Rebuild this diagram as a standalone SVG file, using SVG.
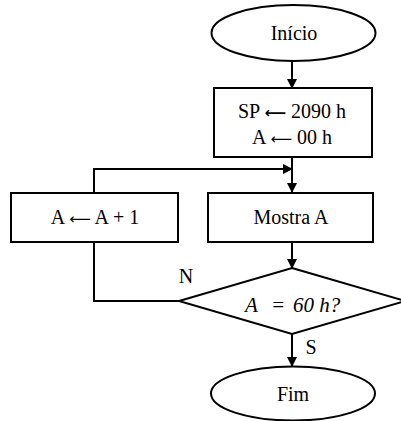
<svg xmlns="http://www.w3.org/2000/svg" width="401" height="421" viewBox="0 0 401 421">
  <style>
    .shape { fill: #fff; stroke: #000; stroke-width: 2; }
    .line { fill: none; stroke: #000; stroke-width: 2; }
    text { font-family: "Liberation Serif", "Times New Roman", serif; font-size: 20px; fill: #000; }
    .c { text-anchor: middle; }
    .it { font-style: italic; font-size: 21px; }
    .arr { font-family: "DejaVu Sans", sans-serif; font-size: 15px; }
  </style>
  <defs>
    <marker id="arrow" markerWidth="10" markerHeight="10" refX="9" refY="5" orient="auto" markerUnits="userSpaceOnUse">
      <path d="M0,0 L10,5 L0,10 z" fill="#000"/>
    </marker>
  </defs>

  <g id="connectors">
    <line class="line" x1="292" y1="61" x2="292" y2="88" marker-end="url(#arrow)"/>
    <line class="line" x1="292" y1="157" x2="292" y2="192" marker-end="url(#arrow)"/>
    <polyline class="line" points="94,193 94,169 292,169" marker-end="url(#arrow)"/>
    <line class="line" x1="292" y1="242" x2="292" y2="268" marker-end="url(#arrow)"/>
    <polyline class="line" points="179,301 94,301 94,242"/>
    <line class="line" x1="292" y1="334" x2="292" y2="366" marker-end="url(#arrow)"/>
    <text x="186" y="283" class="c">N</text>
    <text x="311" y="354" class="c">S</text>
  </g>

  <g id="inicio">
    <ellipse class="shape" cx="293.5" cy="33" rx="82" ry="28"/>
    <text x="294" y="40" class="c">Início</text>
  </g>

  <g id="init">
    <rect class="shape" x="214" y="88" width="158" height="69"/>
    <text x="292" y="118" class="c">SP <tspan class="arr" font-weight="bold">⟵</tspan> 2090 h</text>
    <text x="292" y="144" class="c">A <tspan class="arr">⟵</tspan> 00 h</text>
  </g>

  <g id="incrementa">
    <rect class="shape" x="11" y="193" width="167" height="49"/>
    <text x="95" y="224" class="c">A <tspan class="arr">⟵</tspan> A + 1</text>
  </g>

  <g id="mostra">
    <rect class="shape" x="208" y="193" width="165" height="49"/>
    <text x="291" y="224" class="c">Mostra A</text>
  </g>

  <g id="decisao">
    <polygon class="shape" points="292,268 405,301 292,334 179,301"/>
    <text x="245" y="312" class="it">A</text>
    <text x="271" y="312" class="it">=</text>
    <text x="293" y="312" class="it">60 h?</text>
  </g>

  <g id="fim">
    <ellipse class="shape" cx="293" cy="393.5" rx="82" ry="27"/>
    <text x="293" y="401" class="c">Fim</text>
  </g>
</svg>
